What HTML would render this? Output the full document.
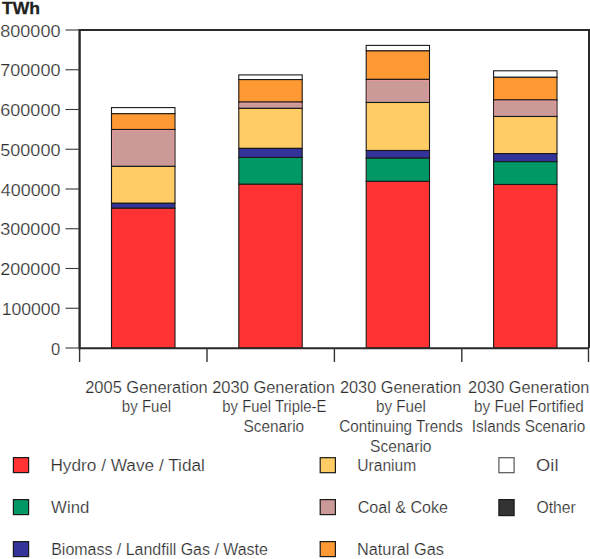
<!DOCTYPE html><html><head><meta charset="utf-8"><style>html,body{margin:0;padding:0;background:#fff;width:590px;height:559px;overflow:hidden}svg{display:block}text{font-family:"Liberation Sans",sans-serif;fill:#2e2e2e;stroke:#fff;stroke-width:0.22px}</style></head><body>
<svg width="590" height="559" viewBox="0 0 590 559">
<rect x="111.50" y="107.60" width="63.50" height="6.10" fill="#ffffff" stroke="#1a1a1a" stroke-width="1.1"/>
<rect x="111.50" y="113.70" width="63.50" height="15.80" fill="#ff9933" stroke="#1a1a1a" stroke-width="1.1"/>
<rect x="111.50" y="129.50" width="63.50" height="36.90" fill="#cc9999" stroke="#1a1a1a" stroke-width="1.1"/>
<path d="M112.60 165.40 V130.60 H173.90 V165.40" fill="none" stroke="#f59a9a" stroke-width="0.9" stroke-opacity="0.75"/>
<rect x="111.50" y="166.40" width="63.50" height="36.90" fill="#ffcc66" stroke="#1a1a1a" stroke-width="1.1"/>
<rect x="111.50" y="203.30" width="63.50" height="5.00" fill="#333399" stroke="#1a1a1a" stroke-width="1.1"/>
<rect x="111.50" y="208.30" width="63.50" height="139.70" fill="#ff3333" stroke="#1a1a1a" stroke-width="1.1"/>
<rect x="238.80" y="74.90" width="63.40" height="4.70" fill="#ffffff" stroke="#1a1a1a" stroke-width="1.1"/>
<rect x="238.80" y="79.60" width="63.40" height="22.50" fill="#ff9933" stroke="#1a1a1a" stroke-width="1.1"/>
<rect x="238.80" y="102.10" width="63.40" height="6.30" fill="#cc9999" stroke="#1a1a1a" stroke-width="1.1"/>
<path d="M239.90 107.40 V103.20 H301.10 V107.40" fill="none" stroke="#f59a9a" stroke-width="0.9" stroke-opacity="0.75"/>
<rect x="238.80" y="108.40" width="63.40" height="40.00" fill="#ffcc66" stroke="#1a1a1a" stroke-width="1.1"/>
<rect x="238.80" y="148.40" width="63.40" height="9.10" fill="#333399" stroke="#1a1a1a" stroke-width="1.1"/>
<rect x="238.80" y="157.50" width="63.40" height="26.80" fill="#009966" stroke="#1a1a1a" stroke-width="1.1"/>
<rect x="238.80" y="184.30" width="63.40" height="163.70" fill="#ff3333" stroke="#1a1a1a" stroke-width="1.1"/>
<rect x="366.20" y="45.40" width="63.30" height="5.50" fill="#ffffff" stroke="#1a1a1a" stroke-width="1.1"/>
<rect x="366.20" y="50.90" width="63.30" height="28.50" fill="#ff9933" stroke="#1a1a1a" stroke-width="1.1"/>
<rect x="366.20" y="79.40" width="63.30" height="23.10" fill="#cc9999" stroke="#1a1a1a" stroke-width="1.1"/>
<path d="M367.30 101.50 V80.50 H428.40 V101.50" fill="none" stroke="#f59a9a" stroke-width="0.9" stroke-opacity="0.75"/>
<rect x="366.20" y="102.50" width="63.30" height="48.00" fill="#ffcc66" stroke="#1a1a1a" stroke-width="1.1"/>
<rect x="366.20" y="150.50" width="63.30" height="7.70" fill="#333399" stroke="#1a1a1a" stroke-width="1.1"/>
<rect x="366.20" y="158.20" width="63.30" height="23.20" fill="#009966" stroke="#1a1a1a" stroke-width="1.1"/>
<rect x="366.20" y="181.40" width="63.30" height="166.60" fill="#ff3333" stroke="#1a1a1a" stroke-width="1.1"/>
<rect x="493.60" y="70.80" width="63.40" height="6.50" fill="#ffffff" stroke="#1a1a1a" stroke-width="1.1"/>
<rect x="493.60" y="77.30" width="63.40" height="22.70" fill="#ff9933" stroke="#1a1a1a" stroke-width="1.1"/>
<rect x="493.60" y="100.00" width="63.40" height="16.50" fill="#cc9999" stroke="#1a1a1a" stroke-width="1.1"/>
<path d="M494.70 115.50 V101.10 H555.90 V115.50" fill="none" stroke="#f59a9a" stroke-width="0.9" stroke-opacity="0.75"/>
<rect x="493.60" y="116.50" width="63.40" height="37.10" fill="#ffcc66" stroke="#1a1a1a" stroke-width="1.1"/>
<rect x="493.60" y="153.60" width="63.40" height="8.10" fill="#333399" stroke="#1a1a1a" stroke-width="1.1"/>
<rect x="493.60" y="161.70" width="63.40" height="22.80" fill="#009966" stroke="#1a1a1a" stroke-width="1.1"/>
<rect x="493.60" y="184.50" width="63.40" height="163.50" fill="#ff3333" stroke="#1a1a1a" stroke-width="1.1"/>
<path d="M79.6 30 H589 V348 M79.6 348.2 H589" fill="none" stroke="#2a2a2a" stroke-width="2"/>
<path d="M79.6 29 V349.2" fill="none" stroke="#2a2a2a" stroke-width="2.4"/>
<line x1="65.5" y1="348.00" x2="79" y2="348.00" stroke="#3a3a3a" stroke-width="1.1"/>
<line x1="65.5" y1="308.25" x2="79" y2="308.25" stroke="#3a3a3a" stroke-width="1.1"/>
<line x1="65.5" y1="268.50" x2="79" y2="268.50" stroke="#3a3a3a" stroke-width="1.1"/>
<line x1="65.5" y1="228.75" x2="79" y2="228.75" stroke="#3a3a3a" stroke-width="1.1"/>
<line x1="65.5" y1="189.00" x2="79" y2="189.00" stroke="#3a3a3a" stroke-width="1.1"/>
<line x1="65.5" y1="149.25" x2="79" y2="149.25" stroke="#3a3a3a" stroke-width="1.1"/>
<line x1="65.5" y1="109.50" x2="79" y2="109.50" stroke="#3a3a3a" stroke-width="1.1"/>
<line x1="65.5" y1="69.75" x2="79" y2="69.75" stroke="#3a3a3a" stroke-width="1.1"/>
<line x1="65.5" y1="30.00" x2="79" y2="30.00" stroke="#3a3a3a" stroke-width="1.1"/>
<line x1="79.60" y1="348" x2="79.60" y2="362" stroke="#333" stroke-width="1.4"/>
<line x1="207.00" y1="348" x2="207.00" y2="362" stroke="#333" stroke-width="1.4"/>
<line x1="334.40" y1="348" x2="334.40" y2="362" stroke="#333" stroke-width="1.4"/>
<line x1="461.80" y1="348" x2="461.80" y2="362" stroke="#333" stroke-width="1.4"/>
<line x1="588.50" y1="348" x2="588.50" y2="362" stroke="#333" stroke-width="1.4"/>
<text x="2.04" y="14.20" font-size="17" font-weight="bold" textLength="38.07" lengthAdjust="spacingAndGlyphs" style="fill:#222;stroke:#222;stroke-width:0.3px">TWh</text>
<text x="51.00" y="354.60" font-size="16.7" font-weight="normal" textLength="9.23" lengthAdjust="spacingAndGlyphs">0</text>
<text x="1.68" y="314.85" font-size="16.7" font-weight="normal" textLength="58.74" lengthAdjust="spacingAndGlyphs">100000</text>
<text x="0.29" y="275.10" font-size="16.7" font-weight="normal" textLength="60.15" lengthAdjust="spacingAndGlyphs">200000</text>
<text x="0.29" y="235.35" font-size="16.7" font-weight="normal" textLength="60.15" lengthAdjust="spacingAndGlyphs">300000</text>
<text x="0.83" y="195.60" font-size="16.7" font-weight="normal" textLength="59.60" lengthAdjust="spacingAndGlyphs">400000</text>
<text x="0.29" y="155.85" font-size="16.7" font-weight="normal" textLength="60.15" lengthAdjust="spacingAndGlyphs">500000</text>
<text x="0.29" y="116.10" font-size="16.7" font-weight="normal" textLength="60.15" lengthAdjust="spacingAndGlyphs">600000</text>
<text x="0.29" y="76.35" font-size="16.7" font-weight="normal" textLength="60.15" lengthAdjust="spacingAndGlyphs">700000</text>
<text x="0.29" y="36.60" font-size="16.7" font-weight="normal" textLength="60.15" lengthAdjust="spacingAndGlyphs">800000</text>
<text x="85.19" y="392.60" font-size="17.3" font-weight="normal" textLength="122.57" lengthAdjust="spacingAndGlyphs">2005 Generation</text>
<text x="121.83" y="412.20" font-size="17.3" font-weight="normal" textLength="49.39" lengthAdjust="spacingAndGlyphs">by Fuel</text>
<text x="212.19" y="392.60" font-size="17.3" font-weight="normal" textLength="122.67" lengthAdjust="spacingAndGlyphs">2030 Generation</text>
<text x="222.34" y="412.20" font-size="17.3" font-weight="normal" textLength="104.02" lengthAdjust="spacingAndGlyphs">by Fuel Triple-E</text>
<text x="243.53" y="431.90" font-size="17.3" font-weight="normal" textLength="60.60" lengthAdjust="spacingAndGlyphs">Scenario</text>
<text x="339.99" y="392.60" font-size="17.3" font-weight="normal" textLength="121.45" lengthAdjust="spacingAndGlyphs">2030 Generation</text>
<text x="376.02" y="412.20" font-size="17.3" font-weight="normal" textLength="49.91" lengthAdjust="spacingAndGlyphs">by Fuel</text>
<text x="339.34" y="431.90" font-size="17.3" font-weight="normal" textLength="123.51" lengthAdjust="spacingAndGlyphs">Continuing Trends</text>
<text x="370.12" y="451.60" font-size="17.3" font-weight="normal" textLength="61.42" lengthAdjust="spacingAndGlyphs">Scenario</text>
<text x="468.09" y="392.60" font-size="17.3" font-weight="normal" textLength="121.35" lengthAdjust="spacingAndGlyphs">2030 Generation</text>
<text x="474.12" y="412.20" font-size="17.3" font-weight="normal" textLength="109.61" lengthAdjust="spacingAndGlyphs">by Fuel Fortified</text>
<text x="471.87" y="431.90" font-size="17.3" font-weight="normal" textLength="113.31" lengthAdjust="spacingAndGlyphs">Islands Scenario</text>
<text x="50.40" y="471.00" font-size="17.3" font-weight="normal" textLength="154.50" lengthAdjust="spacingAndGlyphs">Hydro / Wave / Tidal</text>
<text x="51.10" y="512.70" font-size="17.3" font-weight="normal" textLength="38.19" lengthAdjust="spacingAndGlyphs">Wind</text>
<text x="51.21" y="554.50" font-size="17.3" font-weight="normal" textLength="216.71" lengthAdjust="spacingAndGlyphs">Biomass / Landfill Gas / Waste</text>
<text x="357.27" y="471.00" font-size="17.3" font-weight="normal" textLength="58.99" lengthAdjust="spacingAndGlyphs">Uranium</text>
<text x="357.70" y="512.70" font-size="17.3" font-weight="normal" textLength="90.31" lengthAdjust="spacingAndGlyphs">Coal &amp; Coke</text>
<text x="356.99" y="554.50" font-size="17.3" font-weight="normal" textLength="86.89" lengthAdjust="spacingAndGlyphs">Natural Gas</text>
<text x="536.11" y="471.00" font-size="17.3" font-weight="normal" textLength="22.39" lengthAdjust="spacingAndGlyphs">Oil</text>
<text x="536.42" y="512.70" font-size="17.3" font-weight="normal" textLength="39.40" lengthAdjust="spacingAndGlyphs">Other</text>
<rect x="13.40" y="457.60" width="15.2" height="15.0" fill="#ff3333" stroke="#1a1a1a" stroke-width="1.2"/>
<rect x="13.40" y="499.60" width="15.2" height="15.0" fill="#009966" stroke="#1a1a1a" stroke-width="1.2"/>
<rect x="13.40" y="541.60" width="15.2" height="15.0" fill="#333399" stroke="#1a1a1a" stroke-width="1.2"/>
<rect x="320.20" y="457.70" width="15.2" height="15.0" fill="#ffcc66" stroke="#1a1a1a" stroke-width="1.2"/>
<rect x="320.20" y="499.60" width="15.2" height="15.0" fill="#cc9999" stroke="#1a1a1a" stroke-width="1.2"/>
<rect x="320.20" y="541.60" width="15.2" height="15.0" fill="#ff9933" stroke="#1a1a1a" stroke-width="1.2"/>
<rect x="498.90" y="457.70" width="15.2" height="15.0" fill="#ffffff" stroke="#555" stroke-width="1.2"/>
<rect x="498.90" y="499.60" width="15.2" height="16.0" fill="#333333" stroke="#1a1a1a" stroke-width="1.2"/>
</svg></body></html>
